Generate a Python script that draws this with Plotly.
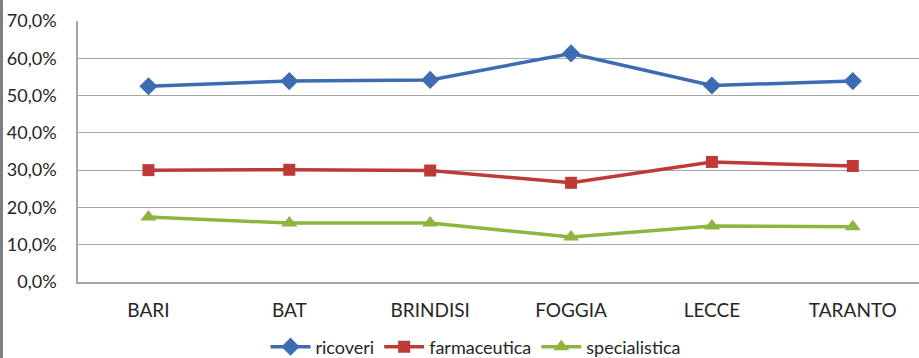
import plotly.graph_objects as go

categories = ["BARI", "BAT", "BRINDISI", "FOGGIA", "LECCE", "TARANTO"]
ricoveri = [0.525, 0.539, 0.542, 0.613, 0.527, 0.539]
farmaceutica = [0.300, 0.301, 0.299, 0.266, 0.322, 0.311]
specialistica = [0.174, 0.158, 0.158, 0.121, 0.150, 0.148]
y_ticks = [0, 0.1, 0.2, 0.3, 0.4, 0.5, 0.6, 0.7]

FONT = "Lato"
fig = go.Figure()
series = [
    ("ricoveri", ricoveri, "#3D6CB3", "diamond", 14),
    ("farmaceutica", farmaceutica, "#BE3A37", "square", 12),
    ("specialistica", specialistica, "#8DB53F", "triangle-up", 14),
]
for name, vals, col, sym, sz in series:
    fig.add_trace(go.Scatter(
        x=list(range(len(categories))), y=vals, name=name, mode="lines+markers",
        line=dict(color=col, width=3.5),
        marker=dict(symbol=sym, size=sz, color=col),
    ))

W, H = 919, 358
ml, mt, mb = 78, 21, 76
ph = H - mt - mb
fig.update_layout(
    width=W, height=H,
    margin=dict(l=ml, r=0, t=mt, b=mb, autoexpand=False),
    paper_bgcolor="white", plot_bgcolor="white",
    font=dict(family=FONT, size=18, color="#262626"),
    separators=",.",
    showlegend=True,
    legend=dict(orientation="h", xref="paper", yref="paper",
                x=(476 - ml) / (W - ml), xanchor="center",
                y=(282 - 347) / ph, yanchor="middle",
                font=dict(family=FONT, size=18, color="#262626"),
                itemwidth=40, tracegroupgap=0, bgcolor="rgba(0,0,0,0)"),
    xaxis=dict(
        tickmode="array", tickvals=list(range(len(categories))), ticktext=categories,
        range=[-0.5, 5.47], showgrid=False, zeroline=False,
        showline=True, linecolor="#A6A6A6", linewidth=1.5,
        ticks="", ticklabelstandoff=10, automargin=False,
        tickfont=dict(family=FONT, size=19, color="#262626"),
    ),
    yaxis=dict(
        range=[0, 0.7], tickvals=y_ticks, tickformat=".1%",
        showgrid=True, gridcolor="#A6A6A6", gridwidth=1.2,
        zeroline=False, showline=True, linecolor="#A6A6A6", linewidth=1.5,
        ticks="", ticklabelstandoff=16, automargin=False,
    ),
    shapes=[dict(type="line", xref="paper", yref="paper",
                 x0=(1.5 - ml) / (W - ml), x1=(1.5 - ml) / (W - ml),
                 y0=-mb / ph, y1=1 + mt / ph,
                 line=dict(color="#7F7F7F", width=3))],
)
fig.write_html("out.html", config={"displayModeBar": False},
               post_script="document.body.style.margin='0px';")
